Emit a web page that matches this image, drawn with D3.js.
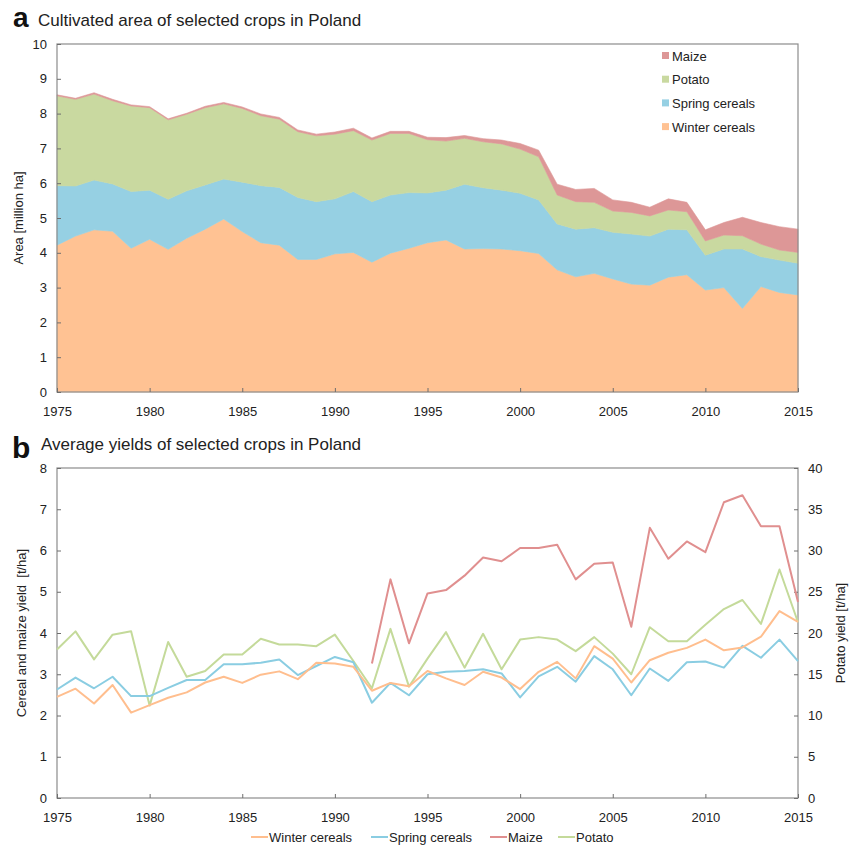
<!DOCTYPE html>
<html>
<head>
<meta charset="utf-8">
<script src="https://cdn.jsdelivr.net/npm/d3@7/dist/d3.min.js"></script>
<style>
  html, body { margin: 0; padding: 0; background: #fff; }
  svg { display: block; font-family: "Liberation Sans", Arial, sans-serif; }
</style>
</head>
<body>
<svg id="chart" width="859" height="845"></svg>
<script>
// Years 1975–2015
const years = d3.range(1975, 2016);

// Panel a: cultivated area [million ha]
const areaWinter = [4.22,4.48,4.66,4.62,4.13,4.39,4.10,4.42,4.68,4.97,4.61,4.29,4.22,3.81,3.81,3.97,4.01,3.73,3.99,4.13,4.29,4.37,4.11,4.12,4.11,4.06,3.98,3.51,3.31,3.41,3.25,3.10,3.07,3.30,3.37,2.93,3.00,2.40,3.03,2.86,2.79];
const areaSpring = [1.71,1.44,1.43,1.36,1.63,1.41,1.44,1.36,1.27,1.15,1.42,1.64,1.66,1.78,1.66,1.58,1.75,1.74,1.67,1.60,1.43,1.43,1.86,1.75,1.69,1.65,1.54,1.32,1.37,1.31,1.34,1.44,1.41,1.38,1.29,1.00,1.11,1.71,0.86,0.93,0.91];
const areaPotato = [2.58,2.49,2.47,2.39,2.46,2.37,2.28,2.20,2.22,2.16,2.12,2.01,1.96,1.89,1.89,1.86,1.75,1.77,1.77,1.70,1.53,1.41,1.32,1.32,1.33,1.27,1.24,0.83,0.79,0.73,0.61,0.62,0.58,0.55,0.52,0.41,0.40,0.38,0.36,0.29,0.31];
const areaMaize  = [0.03,0.03,0.04,0.04,0.03,0.03,0.03,0.03,0.04,0.04,0.04,0.05,0.05,0.05,0.05,0.06,0.07,0.06,0.06,0.06,0.07,0.10,0.08,0.09,0.11,0.16,0.19,0.31,0.35,0.40,0.32,0.29,0.25,0.32,0.27,0.32,0.36,0.53,0.62,0.67,0.67];

// Panel b: average yields [t/ha]; potato on the right axis
const yieldWinter = [2.45,2.65,2.29,2.74,2.07,2.25,2.43,2.56,2.80,2.94,2.79,2.99,3.07,2.88,3.28,3.26,3.18,2.60,2.79,2.71,3.08,2.90,2.74,3.06,2.92,2.64,3.06,3.30,2.90,3.68,3.38,2.80,3.34,3.52,3.64,3.84,3.58,3.65,3.91,4.53,4.27];
const yieldSpring = [2.63,2.92,2.66,2.94,2.47,2.47,2.67,2.86,2.86,3.24,3.24,3.28,3.36,2.98,3.20,3.42,3.29,2.31,2.79,2.49,3.00,3.06,3.08,3.12,3.02,2.44,2.95,3.18,2.82,3.44,3.12,2.49,3.14,2.84,3.29,3.31,3.16,3.69,3.40,3.84,3.32];
const yieldMaize  = [null,null,null,null,null,null,null,null,null,null,null,null,null,null,null,null,null,3.26,5.30,3.75,4.96,5.04,5.39,5.83,5.74,6.06,6.06,6.14,5.30,5.68,5.71,4.15,6.55,5.80,6.22,5.96,7.17,7.34,6.59,6.59,4.75];
const yieldPotato = [18.0,20.2,16.8,19.8,20.2,11.2,18.9,14.7,15.4,17.4,17.4,19.3,18.6,18.6,18.4,19.8,16.6,13.3,20.5,13.5,16.9,20.1,15.8,19.9,15.6,19.2,19.5,19.2,17.8,19.5,17.5,15.0,20.7,19.0,19.0,21.0,22.9,24.0,21.1,27.7,21.3];

const xTicks = [1975,1980,1985,1990,1995,2000,2005,2010,2015];
const areaTicks = d3.range(0, 11);
const yieldTicks = d3.range(0, 9);
const potatoTicks = d3.range(0, 45, 5);

const colors = {
  winter: "#FFC293",
  spring: "#96D0E3",
  potato: "#C9D9A0",
  maize:  "#DD9797"
};
const lineColors = {
  winter: "#FFBE8E",
  spring: "#8ACDE2",
  potato: "#C4DA9A",
  maize:  "#E08F8F"
};

const svg = d3.select("#chart");
const left = 57, right = 798;
const fontSize = 13;

const x = d3.scaleLinear().domain([1975, 2015]).range([left, right]);

function drawFrame(g, top, bottom) {
  g.append("rect")
    .attr("x", left).attr("y", top)
    .attr("width", right - left).attr("height", bottom - top)
    .attr("fill", "none").attr("stroke", "#8c8c8c").attr("stroke-width", 1.2);
}

function styleAxis(sel) {
  sel.select(".domain").remove();
  sel.selectAll(".tick line").attr("stroke", "#6e6e6e").attr("stroke-width", 1);
  sel.selectAll(".tick text").attr("fill", "#222").style("font-size", fontSize + "px")
    .style("font-family", "'Liberation Sans', Arial, sans-serif");
}

// ---------- Panel a ----------
const aTop = 44, aBottom = 392;
const yA = d3.scaleLinear().domain([0, 10]).range([aBottom, aTop]);

const rows = years.map((yr, i) => ({
  year: yr,
  winter: areaWinter[i], spring: areaSpring[i], potato: areaPotato[i], maize: areaMaize[i]
}));
const keys = ["winter", "spring", "potato", "maize"];
const stacked = d3.stack().keys(keys)(rows);

const area = d3.area()
  .x(d => x(d.data.year))
  .y0(d => yA(d[0]))
  .y1(d => yA(d[1]));

const gA = svg.append("g");
gA.selectAll("path.layer")
  .data(stacked)
  .join("path")
  .attr("class", "layer")
  .attr("d", area)
  .attr("fill", d => colors[d.key])
  .attr("stroke", d => colors[d.key])
  .attr("stroke-width", 0.6);

drawFrame(gA, aTop, aBottom);

gA.append("g")
  .attr("transform", `translate(${left},0)`)
  .call(d3.axisRight(yA).tickValues(areaTicks).tickSize(4).tickFormat(d3.format("d")))
  .call(styleAxis)
  .call(s => s.selectAll(".tick text").attr("x", -10).attr("text-anchor", "end"));

gA.append("g")
  .attr("transform", `translate(0,${aBottom})`)
  .call(d3.axisTop(x).tickValues(xTicks).tickSize(4).tickFormat(d3.format("d")))
  .call(styleAxis)
  .call(s => s.selectAll(".tick text").attr("y", 15).attr("dy", "0.71em"));

gA.append("text")
  .attr("transform", `translate(23,${(aTop + aBottom) / 2}) rotate(-90)`)
  .attr("text-anchor", "middle")
  .style("font-size", "13px").attr("fill", "#222")
  .text("Area [million ha]");

svg.append("text").attr("x", 13).attr("y", 27)
  .style("font-size", "28px").style("font-weight", "bold").attr("fill", "#111").text("a");
svg.append("text").attr("x", 38).attr("y", 26)
  .style("font-size", "17px").attr("fill", "#222").text("Cultivated area of selected crops in Poland");

// legend for panel a (top to bottom: maize, potato, spring, winter)
const legA = [
  { key: "maize", label: "Maize" },
  { key: "potato", label: "Potato" },
  { key: "spring", label: "Spring cereals" },
  { key: "winter", label: "Winter cereals" }
];
const legAG = svg.append("g").attr("transform", "translate(662,56)");
legAG.selectAll("g").data(legA).join("g")
  .attr("transform", (d, i) => `translate(0,${i * 23.7})`)
  .each(function (d) {
    const g = d3.select(this);
    g.append("rect").attr("x", 0).attr("y", -4).attr("width", 7).attr("height", 7).attr("fill", colors[d.key]);
    g.append("text").attr("x", 10).attr("y", 4.5).style("font-size", "13px").attr("fill", "#222").text(d.label);
  });

// ---------- Panel b ----------
const bTop = 468, bBottom = 798;
const yB = d3.scaleLinear().domain([0, 8]).range([bBottom, bTop]);
const yP = d3.scaleLinear().domain([0, 40]).range([bBottom, bTop]);

const gB = svg.append("g");
drawFrame(gB, bTop, bBottom);

gB.append("g")
  .attr("transform", `translate(${left},0)`)
  .call(d3.axisRight(yB).tickValues(yieldTicks).tickSize(4).tickFormat(d3.format("d")))
  .call(styleAxis)
  .call(s => s.selectAll(".tick text").attr("x", -10).attr("text-anchor", "end"));

gB.append("g")
  .attr("transform", `translate(${right},0)`)
  .call(d3.axisLeft(yP).tickValues(potatoTicks).tickSize(4).tickFormat(d3.format("d")))
  .call(styleAxis)
  .call(s => s.selectAll(".tick text").attr("x", 10).attr("text-anchor", "start"));

gB.append("g")
  .attr("transform", `translate(0,${bBottom})`)
  .call(d3.axisTop(x).tickValues(xTicks).tickSize(4).tickFormat(d3.format("d")))
  .call(styleAxis)
  .call(s => s.selectAll(".tick text").attr("y", 15).attr("dy", "0.71em"));

const lineL = d3.line()
  .defined(d => d.v != null)
  .x(d => x(d.year)).y(d => yB(d.v));
const lineR = d3.line()
  .x(d => x(d.year)).y(d => yP(d.v));

const seriesB = [
  { key: "potato", vals: yieldPotato, gen: lineR },
  { key: "maize", vals: yieldMaize, gen: lineL },
  { key: "spring", vals: yieldSpring, gen: lineL },
  { key: "winter", vals: yieldWinter, gen: lineL }
];
gB.selectAll("path.series").data(seriesB).join("path")
  .attr("class", "series")
  .attr("fill", "none")
  .attr("stroke", d => lineColors[d.key])
  .attr("stroke-width", 2)
  .attr("stroke-linejoin", "round")
  .attr("d", d => d.gen(years.map((yr, i) => ({ year: yr, v: d.vals[i] }))));

gB.append("text")
  .attr("transform", `translate(26,${(bTop + bBottom) / 2}) rotate(-90)`)
  .attr("text-anchor", "middle")
  .style("font-size", "13px").attr("fill", "#222")
  .attr("xml:space", "preserve")
  .text("Cereal and maize yield  [t/ha]");

gB.append("text")
  .attr("transform", `translate(845,${(bTop + bBottom) / 2}) rotate(-90)`)
  .attr("text-anchor", "middle")
  .style("font-size", "13px").attr("fill", "#222")
  .text("Potato yield [t/ha]");

svg.append("text").attr("x", 12).attr("y", 458)
  .style("font-size", "30px").style("font-weight", "bold").attr("fill", "#111").text("b");
svg.append("text").attr("x", 41).attr("y", 450)
  .style("font-size", "17px").attr("fill", "#222").text("Average yields of selected crops in Poland");

// legend for panel b
const legB = [
  { key: "winter", label: "Winter cereals", x: 251 },
  { key: "spring", label: "Spring cereals", x: 371 },
  { key: "maize", label: "Maize", x: 490 },
  { key: "potato", label: "Potato", x: 558 }
];
const legBG = svg.append("g").attr("transform", "translate(0,837)");
legBG.selectAll("g").data(legB).join("g")
  .attr("transform", d => `translate(${d.x},0)`)
  .each(function (d) {
    const g = d3.select(this);
    g.append("line").attr("x1", 0).attr("x2", 17).attr("y1", 0).attr("y2", 0)
      .attr("stroke", lineColors[d.key]).attr("stroke-width", 2);
    g.append("text").attr("x", 18).attr("y", 4.5).style("font-size", "13px").attr("fill", "#222").text(d.label);
  });
</script>
</body>
</html>
